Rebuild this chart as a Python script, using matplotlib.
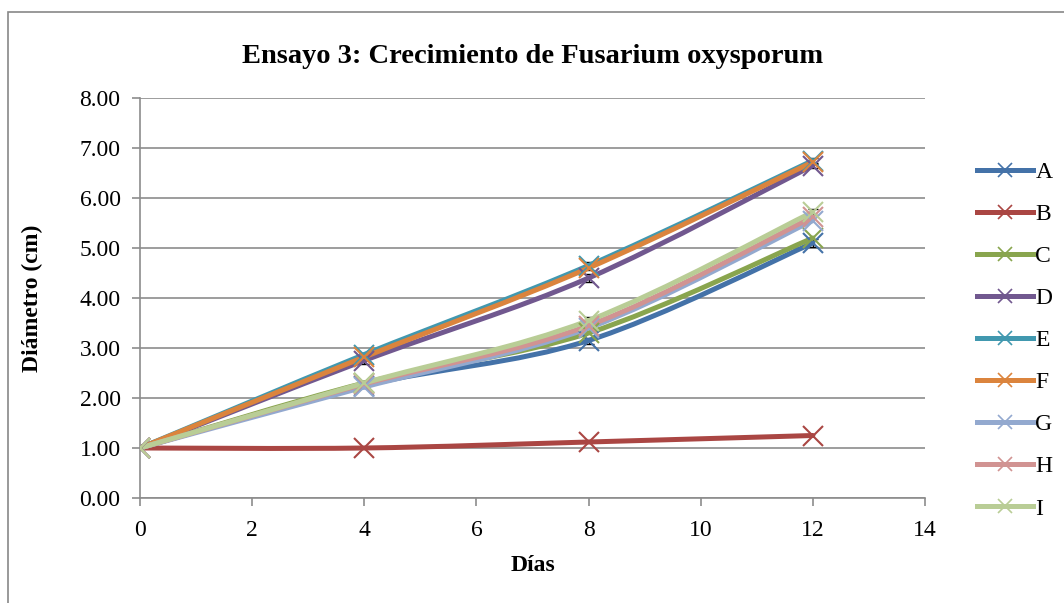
import numpy as np
import matplotlib
matplotlib.use('Agg')
from matplotlib import pyplot as plt
from matplotlib.path import Path
from matplotlib.patches import PathPatch, Rectangle
from matplotlib.lines import Line2D

plt.rcParams['font.family'] = ['Liberation Serif', 'DejaVu Serif']

dias = [0, 4, 8, 12]
series = ['A', 'B', 'C', 'D', 'E', 'F', 'G', 'H', 'I']
A = [1.00, 2.25, 3.15, 5.10]
B = [1.00, 1.00, 1.12, 1.25]
C = [1.00, 2.30, 3.30, 5.20]
D = [1.00, 2.75, 4.40, 6.65]
E = [1.00, 2.87, 4.65, 6.75]
F = [1.00, 2.82, 4.60, 6.72]
G = [1.00, 2.22, 3.40, 5.55]
H = [1.00, 2.28, 3.45, 5.62]
I = [1.00, 2.30, 3.55, 5.72]
err_A = [0.0, 0.04, 0.06, 0.08]
err_D = [0.0, 0.06, 0.08, 0.06]
err_E = [0.0, 0.04, 0.08, 0.06]
err_I = [0.0, 0.04, 0.08, 0.06]
colors = ['#4472a8', '#aa4643', '#89a54e', '#71588f', '#4198af',
          '#db843d', '#93a9cf', '#d19392', '#b9cd96']
values = [A, B, C, D, E, F, G, H, I]


def smooth_path(x, y, t=1.0 / 6):
    # Excel-like smoothed line: cubic bezier through the points
    x = np.asarray(x, float)
    y = np.asarray(y, float)
    verts = [(x[0], y[0])]
    codes = [Path.MOVETO]
    n = len(x)
    for i in range(n - 1):
        p0 = (x[i - 1], y[i - 1]) if i > 0 else (x[i], y[i])
        p1 = (x[i], y[i])
        p2 = (x[i + 1], y[i + 1])
        p3 = (x[i + 2], y[i + 2]) if i + 2 < n else p2
        c1 = (p1[0] + (p2[0] - p0[0]) * t, p1[1] + (p2[1] - p0[1]) * t)
        c2 = (p2[0] - (p3[0] - p1[0]) * t, p2[1] - (p3[1] - p1[1]) * t)
        verts += [c1, c2, p2]
        codes += [Path.CURVE4] * 3
    return Path(verts, codes)


fig = plt.figure(figsize=(10.64, 6.03), dpi=100)
fig.patches.append(Rectangle((8 / 1064, -0.05), 1.2, 1 - 12 / 603 + 0.05,
                             transform=fig.transFigure, fill=False,
                             edgecolor='#888888', linewidth=1.2))
ax = fig.add_axes([140 / 1064, 1 - 498 / 603, 785 / 1064, 400 / 603])

for name, vals, col in zip(series, values, colors):
    ax.add_patch(PathPatch(smooth_path(dias, vals), fill=False,
                           edgecolor=col, linewidth=3.6, capstyle='round',
                           joinstyle='round', zorder=3))
    ax.plot(dias, vals, linestyle='none', marker='x', markersize=14,
            markeredgewidth=1.5, color=col, zorder=4)

for vals, err in [(A, err_A), (D, err_D), (E, err_E), (I, err_I)]:
    ax.errorbar(dias[1:], vals[1:], yerr=err[1:], fmt='none', ecolor='black',
                elinewidth=1.0, capsize=3.5, zorder=2)

ax.set_xlim(0, 14)
ax.set_ylim(0, 8)
ax.set_xticks(range(0, 15, 2))
ax.set_yticks(np.arange(0, 8.5, 1))
ax.set_yticklabels(['%.2f' % v for v in np.arange(0, 8.5, 1)])
ax.yaxis.grid(True, color='#8c8c8c', linewidth=1.2)
ax.set_axisbelow(True)
for s in ['top', 'right']:
    ax.spines[s].set_visible(False)
for s in ['left', 'bottom']:
    ax.spines[s].set_color('#8c8c8c')
    ax.spines[s].set_linewidth(1.2)
ax.tick_params(axis='both', direction='out', length=6, color='#8c8c8c',
               labelsize=17, width=1.2)
ax.tick_params(axis='x', pad=10)
ax.tick_params(axis='y', pad=8)
ax.set_xlabel('Días', fontsize=17, fontweight='bold', labelpad=10)
ax.set_ylabel('Diámetro (cm)', fontsize=17, fontweight='bold', labelpad=26)
ax.set_title('Ensayo 3: Crecimiento de Fusarium oxysporum', fontsize=20.5,
             fontweight='bold', pad=25)

handles = [Line2D([], [], color=c, linewidth=3.6, marker='x', markersize=10,
                  markeredgewidth=1.2) for c in colors]
fig.legend(handles, series, loc='upper left', bbox_to_anchor=(968 / 1064, 1 - 152 / 603),
           frameon=False, fontsize=17, handlelength=2.35, handletextpad=0.1,
           labelspacing=0.87, borderaxespad=0)

fig.savefig('out.png', dpi=100)
